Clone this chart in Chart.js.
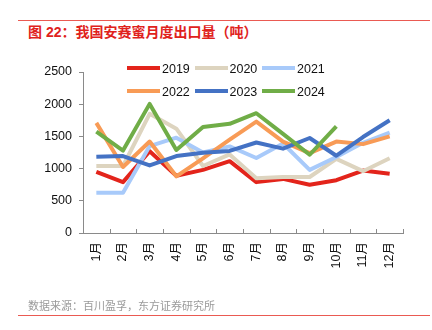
<!DOCTYPE html>
<html>
<head>
<meta charset="utf-8">
<script src="https://cdn.jsdelivr.net/npm/chart.js@4/dist/chart.umd.min.js"></script>
<style>
  body { margin: 0; background: #fff; }
  #wrap { position: relative; width: 432px; height: 330px; overflow: hidden;
          font-family: "Liberation Sans", Arial, "Noto Sans CJK SC", sans-serif; }
  #chart { position: absolute; left: 0; top: 0; }
  .rule { position: absolute; left: 18px; width: 412px; height: 1px; background: #ea5a52; }
  .title { position: absolute; left: 28px; top: 24px; font-size: 14px; line-height: 16px;
           font-weight: bold; color: #e0221c; white-space: nowrap; }
  .source { position: absolute; left: 28px; top: 300px; font-size: 11px; line-height: 13px;
            color: #9a9a9a; white-space: nowrap; }
  #legend { position: absolute; left: 127px; top: 60px; width: 210px; }
  .item { position: absolute; height: 16px; font-size: 12.5px; line-height: 16px; color: #111; white-space: nowrap; }
  .item i { position: absolute; left: 0; top: 6px; width: 33px; height: 4px; }
  .item span { position: absolute; left: 35px; top: 1px; }
</style>
</head>
<body>
<div id="wrap">
  <div class="rule" style="top:20px"></div>
  <div class="title">图 22：我国安赛蜜月度出口量（吨）</div>
  <canvas id="chart" width="432" height="330"></canvas>
  <div id="legend"></div>
  <div class="source">数据来源：百川盈孚，东方证券研究所</div>
  <div class="rule" style="top:315px"></div>
</div>
<script>
// ---------- DATA ----------
const months = ["1月", "2月", "3月", "4月", "5月", "6月", "7月", "8月", "9月", "10月", "11月", "12月"];
const years = ["2019", "2020", "2021", "2022", "2023", "2024"];
const colors = ["#e3241b", "#ddd4bf", "#a8cafa", "#f89b56", "#4472c4", "#70ad47"];

const s2019 = [950, 790, 1270, 890, 980, 1115, 790, 840, 750, 820, 970, 920];
const s2020 = [1040, 1040, 1850, 1620, 1040, 1220, 850, 870, 870, 1150, 960, 1160];
const s2021 = [625, 625, 1350, 1480, 1250, 1345, 1165, 1390, 980, 1180, 1400, 1560];
const s2022 = [1710, 1025, 1420, 880, 1160, 1450, 1730, 1420, 1240, 1420, 1380, 1500];
const s2023 = [1185, 1195, 1050, 1195, 1245, 1275, 1405, 1310, 1475, 1200, 1490, 1750];
const s2024 = [1575, 1280, 2005, 1290, 1645, 1695, 1860, 1540, 1215, 1655, null, null];
const series = [s2019, s2020, s2021, s2022, s2023, s2024];

const yTicks = [0, 500, 1000, 1500, 2000, 2500];

const FONT = '"Liberation Sans", Arial, "Noto Sans CJK SC", sans-serif';
const AXIS = "#8a8a8a";

// ---------- LEGEND (3 per row) ----------
const legend = document.getElementById("legend");
years.forEach((y, i) => {
  const el = document.createElement("div");
  el.className = "item";
  el.style.left = (i % 3) * 67.5 + "px";
  el.style.top = Math.floor(i / 3) * 23 + "px";
  el.innerHTML = `<i style="background:${colors[i]}"></i><span>${y}</span>`;
  legend.appendChild(el);
});

// small upward tick marks on the category boundaries of the x axis
const innerTicks = {
  id: "innerTicks",
  afterDraw(chart) {
    const x = chart.scales.x;
    const ctx = chart.ctx;
    ctx.save();
    ctx.strokeStyle = AXIS;
    ctx.lineWidth = 1;
    ctx.beginPath();
    for (let i = 0; i <= months.length; i++) {
      const px = Math.round(x.getPixelForValue(i - 0.5)) + 0.5;
      ctx.moveTo(px, x.top);
      ctx.lineTo(px, x.top - 4);
    }
    ctx.stroke();
    ctx.restore();
  },
};

new Chart(document.getElementById("chart"), {
  type: "line",
  data: {
    labels: months,
    datasets: years.map((y, i) => ({
      label: y,
      data: series[i],
      borderColor: colors[i],
      backgroundColor: colors[i],
      borderWidth: 4,
      pointRadius: 0,
      tension: 0,
      borderJoinStyle: "round",
      order: years.length - 1 - i,
    })),
  },
  options: {
    responsive: false,
    animation: false,
    layout: { padding: { left: 0, top: 72, right: 29, bottom: 57 } },
    plugins: { legend: { display: false }, tooltip: { enabled: false } },
    scales: {
      x: {
        offset: true,
        afterFit: (s) => { s.height = 40; },
        grid: { display: true, drawOnChartArea: false, drawTicks: false, offset: true },
        border: { color: AXIS, width: 1 },
        ticks: {
          minRotation: 90, maxRotation: 90, padding: 9, autoSkip: false,
          color: "#111", font: { family: FONT, size: 12.5 },
        },
      },
      y: {
        min: 0,
        max: 2500,
        afterFit: (s) => { s.width = 83; },
        afterBuildTicks: (s) => { s.ticks = yTicks.map((v) => ({ value: v })); },
        grid: { display: true, drawOnChartArea: false, drawTicks: true, tickLength: 4, color: AXIS },
        border: { color: AXIS, width: 1 },
        ticks: {
          padding: 7, color: "#111", font: { family: FONT, size: 12.5 },
          callback: (v) => String(v),
        },
      },
    },
  },
  plugins: [innerTicks],
});
</script>
</body>
</html>
